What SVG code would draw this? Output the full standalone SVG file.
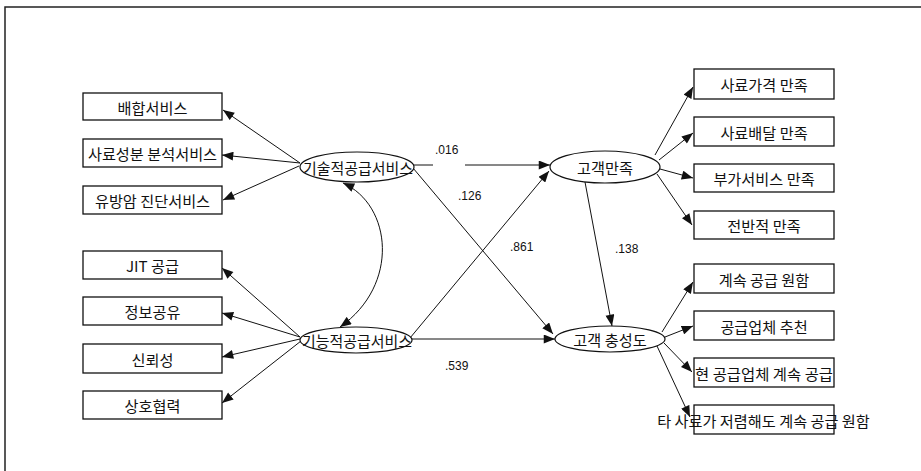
<svg xmlns="http://www.w3.org/2000/svg" width="921" height="471" viewBox="0 0 921 471">
<style>
.frame{stroke:#222;stroke-width:1.5;fill:none}
.box{fill:#fff;stroke:#111;stroke-width:1.3}
.ell{fill:#fff;stroke:#111;stroke-width:1.2}
.t{font-family:"Noto Sans CJK KR","Noto Sans",sans-serif;font-size:15.2px;fill:#111;text-anchor:middle;dominant-baseline:central}
.n{font-family:"Liberation Sans",Arial,sans-serif;font-size:12px;fill:#111}
.c{stroke:#111;stroke-width:1;fill:none;marker-end:url(#ah)}
</style>
<defs>
<marker id="ah" viewBox="0 0 10 8" refX="10" refY="4" markerWidth="12" markerHeight="9" markerUnits="userSpaceOnUse" orient="auto-start-reverse">
<path d="M0,0 L10,4 L0,8 z" fill="#111"/>
</marker>
</defs>
<rect width="921" height="471" fill="#fff"/>
<path class="frame" d="M5,471 L5,7 L921,7"/>

<g id="connectors">
<line class="c" x1="300" y1="163" x2="223" y2="110"/>
<line class="c" x1="300" y1="163" x2="222" y2="155"/>
<line class="c" x1="299" y1="166" x2="223" y2="200"/>
<line class="c" x1="300" y1="337" x2="222" y2="268"/>
<line class="c" x1="300" y1="337" x2="222" y2="313"/>
<line class="c" x1="300" y1="339" x2="222" y2="357"/>
<line class="c" x1="301" y1="341" x2="222" y2="403"/>
<path class="c" d="M343,183 C392,205 400,285 340,327" marker-start="url(#ah)"/>
<line x1="413" y1="165" x2="433" y2="165" stroke="#111" stroke-width="1"/>
<line class="c" x1="465" y1="165" x2="550" y2="165"/>
<line class="c" x1="413" y1="168" x2="553" y2="334"/>
<line class="c" x1="410" y1="338" x2="549" y2="171"/>
<line class="c" x1="412" y1="339" x2="555" y2="339"/>
<line class="c" x1="585" y1="182" x2="612" y2="326"/>
<line class="c" x1="655" y1="155" x2="693" y2="87"/>
<line class="c" x1="659" y1="160" x2="693" y2="133"/>
<line class="c" x1="660" y1="169" x2="693" y2="178"/>
<line class="c" x1="657" y1="174" x2="692" y2="225"/>
<line class="c" x1="662" y1="332" x2="693" y2="282"/>
<line class="c" x1="665" y1="337" x2="693" y2="326"/>
<line class="c" x1="664" y1="343" x2="692" y2="372"/>
<line class="c" x1="657" y1="346" x2="690" y2="417"/>
</g>

<g id="n-mix"><rect class="box" x="83" y="93" width="139" height="27"/><text class="t" x="152.5" y="106.5">배합서비스</text></g>
<g id="n-feedanalysis"><rect class="box" x="83" y="139" width="139" height="28"/><text class="t" x="152.5" y="153">사료성분 분석서비스</text></g>
<g id="n-mastitis"><rect class="box" x="83" y="186" width="139" height="28"/><text class="t" x="152.5" y="200">유방암 진단서비스</text></g>
<g id="n-jit"><rect class="box" x="83" y="251" width="139" height="28"/><text class="t" x="152.5" y="265">JIT 공급</text></g>
<g id="n-info"><rect class="box" x="83" y="297" width="139" height="28"/><text class="t" x="152.5" y="311">정보공유</text></g>
<g id="n-trust"><rect class="box" x="83" y="344" width="139" height="29"/><text class="t" x="152.5" y="358.5">신뢰성</text></g>
<g id="n-coop"><rect class="box" x="83" y="391" width="139" height="28"/><text class="t" x="152.5" y="405">상호협력</text></g>

<g id="n-tech"><ellipse class="ell" cx="357" cy="167" rx="57" ry="15"/><text class="t" x="358" y="167" textLength="110" lengthAdjust="spacingAndGlyphs">기술적공급서비스</text></g>
<g id="n-func"><ellipse class="ell" cx="356" cy="340" rx="56" ry="13"/><text class="t" x="357" y="340" textLength="110" lengthAdjust="spacingAndGlyphs">기능적공급서비스</text></g>
<g id="n-sat"><ellipse class="ell" cx="605" cy="167" rx="55" ry="16"/><text class="t" x="605" y="167">고객만족</text></g>
<g id="n-loyal"><ellipse class="ell" cx="610" cy="339" rx="55" ry="13"/><text class="t" x="610" y="339">고객 충성도</text></g>

<g id="n-price"><rect class="box" x="694" y="69" width="140" height="30"/><text class="t" x="764" y="84">사료가격 만족</text></g>
<g id="n-delivery"><rect class="box" x="694" y="117" width="140" height="29"/><text class="t" x="764" y="131.5">사료배달 만족</text></g>
<g id="n-extra"><rect class="box" x="694" y="164" width="140" height="28"/><text class="t" x="764" y="178">부가서비스 만족</text></g>
<g id="n-overall"><rect class="box" x="694" y="211" width="140" height="28"/><text class="t" x="764" y="225">전반적 만족</text></g>
<g id="n-continue"><rect class="box" x="694" y="264" width="140" height="29"/><text class="t" x="764" y="278.5">계속 공급 원함</text></g>
<g id="n-recommend"><rect class="box" x="694" y="311" width="140" height="29"/><text class="t" x="764" y="325.5">공급업체 추천</text></g>
<g id="n-current"><rect class="box" x="694" y="358" width="140" height="29"/><text class="t" x="764" y="372.5" textLength="138" lengthAdjust="spacingAndGlyphs">현 공급업체 계속 공급</text></g>
<g id="n-cheaper"><rect class="box" x="694" y="405" width="140" height="29"/><text class="t" x="763.5" y="420">타 사료가 저렴해도 계속 공급 원함</text></g>

<g id="labels">
<text class="n" x="435" y="153.5">.016</text>
<text class="n" x="458" y="200">.126</text>
<text class="n" x="510" y="251">.861</text>
<text class="n" x="615" y="253">.138</text>
<text class="n" x="445" y="370">.539</text>
</g>
</svg>
